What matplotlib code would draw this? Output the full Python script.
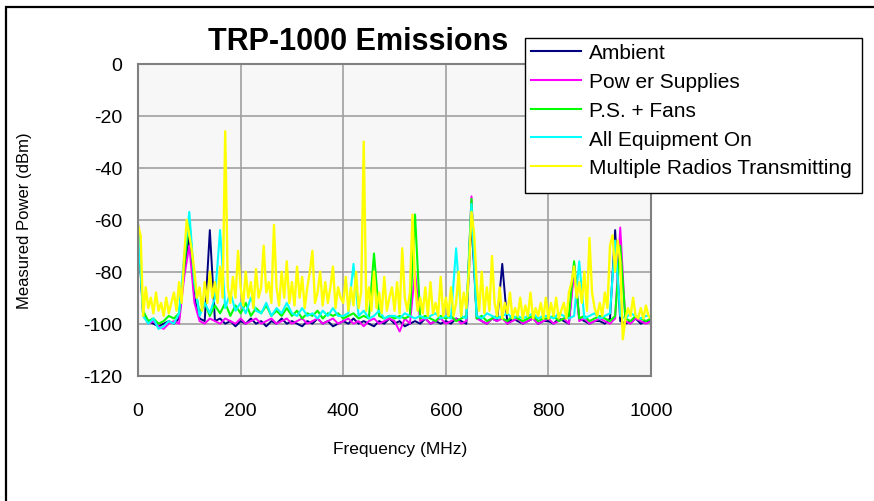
import numpy as np
from matplotlib import pyplot as plt
from matplotlib import patches

# frequency grids (MHz)
freq_fine = np.arange(0, 1001, 5)
freq_coarse = np.arange(0, 1001, 10)

# measured power (dBm), 10 MHz steps
ambient = [
    -63, -97, -99, -100, -101, -100, -99, -100, -98, -80,
    -66, -90, -98, -99, -64, -99, -98, -100, -99, -101,
    -99, -100, -98, -100, -99, -101, -99, -100, -98, -100,
    -99, -100, -101, -99, -100, -98, -100, -99, -101, -100,
    -99, -100, -98, -100, -99, -100, -101, -99, -100, -98,
    -100, -99, -101, -100, -99, -100, -98, -100, -99, -100,
    -99, -100, -98, -99, -100, -60, -97, -99, -100, -98,
    -99, -77, -100, -98, -99, -100, -99, -98, -100, -99,
    -99, -100, -98, -99, -100, -77, -98, -99, -100, -99,
    -99, -100, -98, -64, -99, -100, -99, -98, -100, -99,
    -99,
]
power_supplies = [
    -61, -96, -100, -99, -101, -102, -100, -99, -100, -82,
    -70, -92, -99, -100, -98, -99, -100, -98, -99, -100,
    -98, -100, -99, -98, -100, -99, -98, -100, -99, -98,
    -100, -99, -98, -100, -99, -98, -100, -99, -98, -100,
    -99, -98, -100, -99, -101, -99, -98, -100, -99, -98,
    -99, -103, -98, -100, -80, -99, -98, -100, -99, -98,
    -100, -99, -98, -100, -99, -51, -98, -99, -100, -98,
    -99, -98, -100, -99, -98, -100, -99, -98, -100, -99,
    -98, -100, -99, -98, -100, -80, -99, -98, -100, -99,
    -98, -99, -100, -98, -63, -99, -100, -98, -99, -100,
    -99,
]
ps_fans = [
    -62, -95, -99, -98, -100, -99, -97, -98, -96, -78,
    -60, -85, -96, -92, -97, -93, -96, -92, -97, -93,
    -96, -92, -97, -94, -96, -93, -97, -95, -97, -94,
    -97, -95, -98, -96, -97, -95, -98, -96, -97, -96,
    -98, -97, -96, -98, -97, -98, -73, -97, -98, -97,
    -98, -97, -98, -97, -58, -98, -97, -98, -99, -97,
    -98, -97, -99, -98, -97, -52, -98, -97, -99, -98,
    -97, -98, -99, -97, -98, -99, -98, -97, -99, -98,
    -98, -97, -99, -98, -97, -76, -98, -97, -99, -98,
    -97, -98, -99, -97, -70, -98, -99, -97, -98, -99,
    -98,
]
all_equipment = [
    -62, -97, -100, -98, -102, -101, -99, -100, -96, -74,
    -57, -84, -97, -92, -96, -90, -64, -94, -88, -95,
    -92, -96, -90, -95, -96, -92, -97, -94, -96, -92,
    -96, -97, -94, -97, -96, -98, -95, -97, -94, -97,
    -97, -96, -77, -97, -95, -98, -97, -95, -98, -97,
    -97, -98, -96, -97, -98, -97, -98, -97, -96, -98,
    -97, -98, -71, -97, -98, -54, -97, -98, -96, -97,
    -98, -97, -96, -98, -97, -98, -97, -96, -98, -97,
    -97, -98, -96, -97, -98, -97, -76, -98, -97, -96,
    -98, -97, -96, -68, -97, -98, -96, -97, -98, -97,
    -97,
]

# measured power (dBm), 5 MHz steps
radios = [
    -62, -66, -97, -86, -94, -90, -96, -88, -95, -92,
    -97, -90, -96, -92, -88, -95, -84, -92, -74, -60,
    -66, -72, -80, -90, -86, -95, -84, -92, -80, -90,
    -84, -92, -78, -90, -26, -86, -92, -82, -90, -72,
    -86, -93, -80, -90, -84, -94, -79, -90, -86, -70,
    -88, -84, -92, -62, -86, -93, -80, -90, -76, -92,
    -84, -93, -78, -90, -82, -94, -86, -80, -72, -92,
    -88, -80, -93, -84, -92, -86, -78, -94, -86, -90,
    -92, -82, -95, -86, -93, -80, -94, -88, -30, -95,
    -86, -95, -80, -94, -88, -96, -82, -95, -90, -86,
    -95, -84, -96, -71, -90, -95, -88, -58, -85, -95,
    -90, -96, -86, -97, -84, -96, -92, -97, -82, -97,
    -90, -97, -86, -97, -92, -80, -97, -88, -94, -80,
    -57, -65, -84, -95, -80, -96, -86, -95, -74, -92,
    -97, -86, -98, -92, -96, -88, -98, -94, -97, -90,
    -98, -93, -97, -88, -98, -94, -97, -92, -98, -90,
    -98, -92, -97, -90, -98, -95, -92, -98, -88, -84,
    -78, -90, -84, -92, -80, -95, -67, -88, -94, -97,
    -92, -97, -88, -94, -70, -66, -80, -68, -76, -106,
    -98, -94, -97, -90, -97, -98, -94, -98, -93, -97,
    -98,
]

labels = ['Ambient', 'Pow er Supplies', 'P.S. + Fans', 'All Equipment On',
          'Multiple Radios Transmitting']
colors = ['#000080', '#FF00FF', '#00FF00', '#00FFFF', '#FFFF00']

plt.rcParams['font.family'] = ['Liberation Sans', 'DejaVu Sans']
plt.rcParams['axes.unicode_minus'] = False

fig = plt.figure(figsize=(8.74, 5.02), dpi=100)
fig.patch.set_facecolor('white')

# outer chart border (cut off on the right and bottom)
fig.add_artist(patches.Rectangle((6 / 874, -0.1), 1.2, 1 - 8 / 502 + 0.1,
                                 transform=fig.transFigure, fill=False,
                                 edgecolor='black', linewidth=1.6))

ax = fig.add_axes([0.1579, 0.2496, 0.587, 0.6215])
ax.set_facecolor('#F7F7F7')

series = [(freq_coarse, ambient), (freq_coarse, power_supplies),
          (freq_coarse, ps_fans), (freq_coarse, all_equipment),
          (freq_fine, radios)]
widths = [1.4, 1.4, 1.5, 1.5, 1.7]
for (x, y), lab, col, lw in zip(series, labels, colors, widths):
    ax.plot(x, y, color=col, linewidth=lw, label=lab)

ax.set_xlim(0, 1000)
ax.set_ylim(-120, 0)
ax.set_xticks([0, 200, 400, 600, 800, 1000])
ax.set_yticks([0, -20, -40, -60, -80, -100, -120])
ax.grid(True, color='#A0A0A0', linewidth=1.2)
ax.set_axisbelow(True)
for sp in ax.spines.values():
    sp.set_color('#808080')
    sp.set_linewidth(1.5)
ax.tick_params(axis='both', length=0, labelsize=14)
ax.tick_params(axis='y', pad=11.5)
ax.tick_params(axis='x', pad=19)

fig.text(400 / 874, 1 - 450 / 502, 'Frequency (MHz)', fontsize=12.5,
         ha='center', va='center')
fig.text(25 / 874, 1 - 221 / 502, 'Measured Power (dBm)', fontsize=12,
         ha='center', va='center', rotation=90)
fig.text(358 / 874, 1 - 42 / 502, 'TRP-1000 Emissions', fontsize=22,
         fontweight='bold', ha='center', va='center')

# legend box drawn by hand so its size matches the original
fig.add_artist(patches.Rectangle((525 / 874, 1 - 194 / 502), 337 / 874, 155 / 502,
                                 transform=fig.transFigure, facecolor='white',
                                 edgecolor='black', linewidth=1.0, zorder=4))
leg = fig.legend(loc='upper left', bbox_to_anchor=(525 / 874, 1 - 38 / 502),
                 fontsize=15, frameon=False, handlelength=2.4,
                 handletextpad=0.35, labelspacing=0.47, borderpad=0.3,
                 borderaxespad=0)
leg.set_zorder(5)
for line in leg.get_lines():
    line.set_linewidth(1.5)

fig.savefig('out.png', dpi=100)
